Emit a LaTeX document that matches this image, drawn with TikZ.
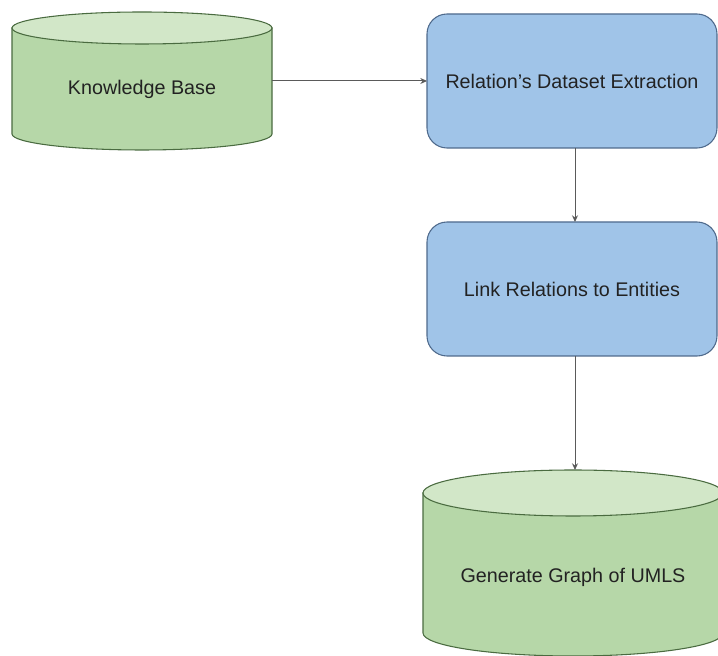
\documentclass[tikz,border=0pt]{standalone}
\usepackage{fontspec}
\setmainfont{Liberation Sans}
\usetikzlibrary{arrows.meta}

\definecolor{dbfill}{HTML}{B6D7A8}
\definecolor{dbtop}{HTML}{D2E7C8}
\definecolor{dbline}{HTML}{4A6B40}
\definecolor{boxfill}{HTML}{A0C4E8}
\definecolor{boxline}{HTML}{4F6A8C}
\definecolor{flow}{HTML}{5A5A5A}
\definecolor{txt}{HTML}{222222}

\tikzset{
  frame/.style={inner sep=0pt, outer sep=0pt, draw=none},
  label/.style={inner sep=0pt, text=txt, font=\fontsize{14.8pt}{17pt}\selectfont},
  stepbox/.style={draw=boxline, fill=boxfill, line width=0.8pt, rounded corners=15pt,
    minimum width=217.5pt, minimum height=100.5pt, inner sep=0pt, outer sep=0pt,
    text=txt, font=\fontsize{14.8pt}{17pt}\selectfont},
  dbbody/.style={draw=dbline, fill=dbfill, line width=0.8pt},
  dbcap/.style={draw=dbline, fill=dbtop, line width=0.8pt},
  flowarrow/.style={draw=flow, line width=0.75pt, -{Stealth[length=5pt,width=4.5pt]}}
}

% database cylinder: #1 centre x, #2 top-ellipse centre y, #3 bottom-curve centre y,
% #4 x radius, #5 y radius
\newcommand{\dbshape}[5]{%
  \path[dbbody] ({#1-#4},#2) -- ({#1-#4},#3)
    arc[start angle=180, end angle=360, x radius=#4, y radius=#5]
    -- ({#1+#4},#2) -- cycle;
  \path[dbcap] (#1,#2) ellipse[x radius=#4, y radius=#5];
}

\begin{document}
\begin{tikzpicture}[x=0.75pt, y=0.75pt]
  \useasboundingbox (0,0) rectangle (718,656);
  \clip (0,0) rectangle (718,656);

  % Knowledge Base store
  \dbshape{142}{628}{522}{130}{16}
  \node[frame, minimum width=195pt, minimum height=103.5pt] (kb) at (142,575) {};
  \node[label] (kbl) at (142,567) {Knowledge Base};

  % processing steps
  \node[stepbox] (rel) at (572,575) {Relation’s Dataset Extraction};
  \node[stepbox] (link) at (572,367) {Link Relations to Entities};

  % UMLS graph store
  \dbshape{573}{163}{23}{150}{23}
  \node[frame, minimum width=225pt, minimum height=139.5pt] (umls) at (573,93) {};
  \node[label] (umlsl) at (573,79) {Generate Graph of UMLS};

  % flow
  \draw[flowarrow] (kb.east) -- (rel.west);
  \draw[flowarrow] ([xshift=2.25pt]rel.south) -- ([xshift=2.25pt]link.north);
  \draw[flowarrow] ([xshift=2.25pt]link.south) -- ([xshift=1.5pt]umls.north);
\end{tikzpicture}
\end{document}
